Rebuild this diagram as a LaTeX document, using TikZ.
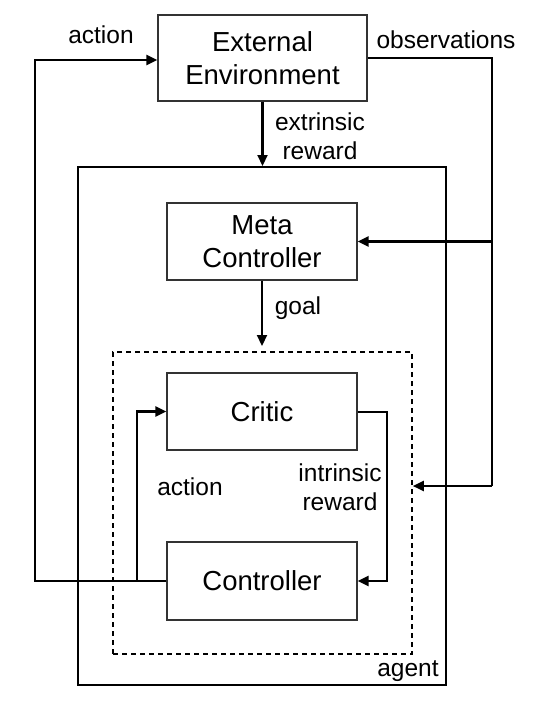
\documentclass[tikz,border=0pt]{standalone}
\usepackage{fontspec}
\setmainfont{Liberation Sans}
\usetikzlibrary{arrows.meta}
\begin{document}
\begin{tikzpicture}[x=1pt,y=-1pt,
 box/.style={draw=black!80,line width=1.2pt,fill=white,inner sep=0pt,align=center,font=\fontsize{27.5}{33}\selectfont},
 conn/.style={line width=2.2pt,-{Triangle[length=11pt,width=10pt]}},
 wire/.style={line width=2.2pt},
 lab/.style={font=\fontsize{24.5}{29}\selectfont,align=center,inner sep=0pt}]
\useasboundingbox (0,0) rectangle (536,704);
\node[draw,line width=2pt,minimum width=368pt,minimum height=518pt,inner sep=0pt] (agent) at (262,426) {};
\node[draw,line width=1.6pt,dash pattern=on 5pt off 4pt,minimum width=299pt,minimum height=302pt,inner sep=0pt] (dash) at (262.5,503) {};
\node[box,minimum width=209pt,minimum height=86pt] (env) at (262.5,58) {External\\Environment};
\node[box,minimum width=190pt,minimum height=77pt] (meta) at (262,241.5) {Meta\\Controller};
\node[box,minimum width=190pt,minimum height=77pt] (critic) at (262,411.5) {Critic};
\node[box,minimum width=190pt,minimum height=78pt] (ctrl) at (262,581) {Controller};
% outer action
\coordinate (aL) at (35,581);
\coordinate (aT) at (35,60);
\draw[conn] (ctrl.west) -- (aL) -- (aT) -- (env.west |- aT);
% inner action
\coordinate (ai) at (137,581);
\draw[conn] (ai) -- (ai |- critic.west) -- (critic.west);
% observations
\coordinate (oR) at (492,58);
\coordinate (oB) at (492,486);
\draw[wire] (env.east |- oR) -- (oR) -- (oB);
\draw[conn] (oB) -- (dash.east |- oB);
\draw[conn] (oR |- meta.east) -- (meta.east);
% extrinsic reward
\draw[conn] (env.south) -- (env.south |- agent.north);
% goal
\coordinate (g) at (262,346);
\draw[conn] (meta.south) -- (g);
% intrinsic reward
\coordinate (ir) at (387,412);
\draw[conn] (critic.east |- ir) -- (ir) -- (ir |- ctrl.east) -- (ctrl.east);
% labels
\node[lab] (l1) at (101,35) {action};
\node[lab] (l2) at (446,40) {observations};
\node[lab] (l3) at (320,136) {extrinsic\\reward};
\node[lab] (l4) at (298,308) {goal};
\node[lab] (l5) at (190,487) {action};
\node[lab] (l6) at (340,487) {intrinsic\\reward};
\node[lab] (l7) at (408,671) {agent};
\end{tikzpicture}
\end{document}
